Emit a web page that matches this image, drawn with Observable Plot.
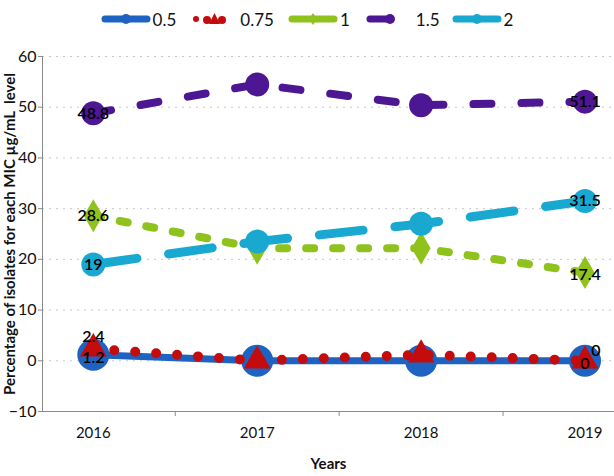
<!DOCTYPE html>
<html>
<head>
<meta charset="utf-8">
<script src="https://cdn.jsdelivr.net/npm/d3@7"></script>
<script src="https://cdn.jsdelivr.net/npm/@observablehq/plot@0.6"></script>
<style>
  html, body { margin: 0; padding: 0; background: #fff; }
  body { width: 614px; height: 476px; overflow: hidden; font-family: Lato, "Open Sans", sans-serif; }
  #legend { height: 36px; display: flex; align-items: center; justify-content: center; font-size: 17px; color: #111; padding-top: 2px; box-sizing: border-box; }
  #legend .item { display: flex; align-items: center; }
  #legend svg { display: block; }
</style>
</head>
<body>
<div id="legend"></div>
<div id="chart"></div>
<script>
// ---- data ----
const years = [2016, 2017, 2018, 2019];
const seriesNames = ["0.5", "0.75", "1", "1.5", "2"];
const mic05  = [1.2, 0, 0, 0];
const mic075 = [2.4, 0, 1.2, 0];
const mic1   = [28.6, 22.2, 22.2, 17.4];
const mic15  = [48.8, 54.5, 50.4, 51.1];
const mic2   = [19, 23.5, 27.0, 31.5];
const yTicks = [-10, 0, 10, 20, 30, 40, 50, 60];

// ---- styles ----
const styles = {
  "0.5":  {values: mic05,  color: "#1f63c2", width: 7,  dash: null,    cap: "round", symbol: "circle",   r: 16},
  "0.75": {values: mic075, color: "#c40c0c", width: 10, dash: "0 21",  cap: "round", symbol: "triangle", r: 10},
  "1":    {values: mic1,   color: "#8fc21c", width: 8,  dash: "8 19",  cap: "round", symbol: "diamond",  r: 10},
  "1.5":  {values: mic15,  color: "#4d1793", width: 8,  dash: "18 30", cap: "round", symbol: "circle",   r: 12},
  "2":    {values: mic2,   color: "#19a9d0", width: 9,  dash: "44 32", cap: "round", symbol: "circle",   r: 12}
};

const table = seriesNames.flatMap(s => years.map((yr, i) => ({series: s, year: yr, value: styles[s].values[i], i})));

// label placement per series: [first, last] offsets
const labelOffsets = {
  "0.5":  [{dx: 0, dy: 3},  {dx: 0, dy: 3}],
  "0.75": [{dx: 0, dy: -12}, {dx: 11, dy: -10}],
  "1":    [{dx: 0, dy: 0},  {dx: 0, dy: 2}],
  "1.5":  [{dx: 0, dy: 1},  {dx: 0, dy: 0}],
  "2":    [{dx: 0, dy: 0},  {dx: 0, dy: 0}]
};

const marks = [];
// grid
marks.push(Plot.ruleY(yTicks.filter(t => t > -10), {stroke: "#c8c8c8", strokeDasharray: "2 5", strokeWidth: 1}));
// axes lines
marks.push(Plot.ruleX([2015.69], {y1: -10, y2: 60, stroke: "#8a8a8a", strokeWidth: 1}));
marks.push(Plot.ruleY([-10], {stroke: "#8a8a8a", strokeWidth: 1}));
marks.push(Plot.axisY(yTicks, {tickSize: 4, tickPadding: 2, fontSize: 16, stroke: "#8a8a8a", color: "#8a8a8a", fill: "#111",
  label: "Percentage of isolates for each MIC µg/mL  level", labelAnchor: "center", labelOffset: 38, labelArrow: "none"}));
marks.push(Plot.axisX(years, {tickSize: 0, tickPadding: 16, fontSize: 15, fill: "#111", tickFormat: d => String(d),
  label: "Years", labelAnchor: "center", labelOffset: 57, labelArrow: "none"}));
marks.push(Plot.axisX([2016.5, 2017.5, 2018.5], {tickSize: 5, stroke: "#8a8a8a", tickFormat: () => "", label: null}));

for (const s of seriesNames) {
  const st = styles[s];
  const d = table.filter(r => r.series === s);
  marks.push(Plot.line(d, {x: "year", y: "value", stroke: st.color, strokeWidth: st.width,
    strokeDasharray: st.dash, strokeLinecap: st.cap, strokeLinejoin: "round"}));
  marks.push(Plot.dot(d, {x: "year", y: "value", symbol: st.symbol, r: st.r, fill: st.color, stroke: "none"}));
}
for (const s of seriesNames) {
  const d = table.filter(r => r.series === s);
  const first = d[0], last = d[d.length - 1];
  [first, last].forEach((p, k) => {
    const o = labelOffsets[s][k];
    marks.push(Plot.text([p], {x: "year", y: "value", text: r => String(r.value), dx: o.dx, dy: o.dy,
      fontSize: 16, fill: "#000", fontWeight: 600}));
  });
}

const chart = Plot.plot({
  width: 614,
  height: 440,
  marginLeft: 42,
  marginRight: 0,
  marginTop: 20,
  marginBottom: 65,
  style: {fontFamily: "Lato, 'Open Sans', sans-serif", fontSize: "15px", color: "#111", background: "#fff"},
  x: {type: "linear", domain: [2015.69, 2019.18], axis: null},
  y: {domain: [-10, 60], axis: null},
  marks
});
document.getElementById("chart").appendChild(chart);
// bold titles
chart.querySelectorAll("g[aria-label='y-axis label'] text").forEach(t => {
  t.style.fontWeight = "bold"; t.style.fontSize = "15px";
});
chart.querySelectorAll("g[aria-label='x-axis label'] text").forEach(t => {
  t.style.fontWeight = "bold"; t.style.fontSize = "15px";
});

// ---- legend ----
const ns = "http://www.w3.org/2000/svg";
function el(tag, attrs, parent) {
  const e = document.createElementNS(ns, tag);
  for (const k in attrs) e.setAttribute(k, attrs[k]);
  parent.appendChild(e);
  return e;
}
const legendLayout = {
  "0.5":  {w: 50, before: 0,  after: 2},
  "0.75": {w: 34, before: 16, after: 14},
  "1":    {w: 50, before: 14, after: 2},
  "1.5":  {w: 30, before: 16, after: 20},
  "2":    {w: 50, before: 12, after: 2}
};
const legend = document.getElementById("legend");
for (const s of seriesNames) {
  const st = styles[s], L = legendLayout[s];
  const item = document.createElement("div");
  item.className = "item";
  item.style.marginLeft = L.before + "px";
  const sv = el("svg", {width: L.w, height: 20}, item);
  const cy = 10;
  if (s === "0.75") {
    el("circle", {cx: 4, cy, r: 3, fill: st.color}, sv);
    el("circle", {cx: 15, cy: cy + 1, r: 4, fill: st.color}, sv);
    el("circle", {cx: 30, cy: cy + 1, r: 4, fill: st.color}, sv);
    el("path", {d: `M22.5 ${cy - 6} L28 ${cy + 5} L17 ${cy + 5} Z`, fill: st.color}, sv);
  } else if (s === "1.5") {
    el("line", {x1: 4, y1: cy, x2: L.w - 6, y2: cy, stroke: st.color, "stroke-width": 7, "stroke-linecap": "round"}, sv);
    el("circle", {cx: L.w - 6, cy, r: 5, fill: st.color}, sv);
  } else {
    el("line", {x1: 4, y1: cy, x2: L.w - 4, y2: cy, stroke: st.color, "stroke-width": 7, "stroke-linecap": "round"}, sv);
    if (s === "1") el("path", {d: `M${L.w/2} ${cy - 6} L${L.w/2 + 4} ${cy} L${L.w/2} ${cy + 6} L${L.w/2 - 4} ${cy} Z`, fill: st.color}, sv);
    else el("circle", {cx: L.w / 2, cy, r: 5, fill: st.color}, sv);
  }
  const lab = document.createElement("span");
  lab.textContent = s;
  lab.style.marginLeft = L.after + "px";
  item.appendChild(lab);
  legend.appendChild(item);
}
</script>
</body>
</html>
